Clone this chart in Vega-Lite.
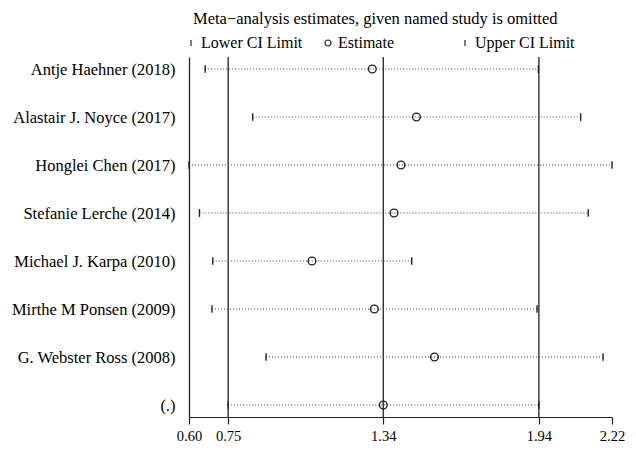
{
  "$schema": "https://vega.github.io/schema/vega-lite/v6.json",
  "width": 423,
  "height": 360,
  "autosize": {"type": "none"},
  "padding": {"left": 189, "top": 57, "right": 24, "bottom": 37},
  "background": "white",
  "title": {
    "text": "Meta−analysis estimates, given named study is omitted",
    "anchor": "start",
    "frame": "group",
    "font": "Liberation Serif",
    "fontSize": 16.5,
    "fontWeight": "normal",
    "color": "#000",
    "offset": 8,
    "dx": 4
  },
  "config": {
    "view": {"stroke": null},
    "font": "Liberation Serif"
  },
  "data": {
    "values": [
      {"study": "Antje Haehner (2018)", "Lower CI Limit": 0.662, "Estimate": 1.302, "Upper CI Limit": 1.938},
      {"study": "Alastair J. Noyce (2017)", "Lower CI Limit": 0.844, "Estimate": 1.471, "Upper CI Limit": 2.100},
      {"study": "Honglei Chen (2017)", "Lower CI Limit": 0.600, "Estimate": 1.412, "Upper CI Limit": 2.220},
      {"study": "Stefanie Lerche (2014)", "Lower CI Limit": 0.640, "Estimate": 1.385, "Upper CI Limit": 2.129},
      {"study": "Michael J. Karpa (2010)", "Lower CI Limit": 0.691, "Estimate": 1.071, "Upper CI Limit": 1.453},
      {"study": "Mirthe M Ponsen (2009)", "Lower CI Limit": 0.688, "Estimate": 1.310, "Upper CI Limit": 1.933},
      {"study": "G. Webster Ross (2008)", "Lower CI Limit": 0.895, "Estimate": 1.540, "Upper CI Limit": 2.186},
      {"study": "(.)", "Lower CI Limit": 0.750, "Estimate": 1.344, "Upper CI Limit": 1.940}
    ]
  },
  "layer": [
    {
      "transform": [
        {"filter": "datum.study === '(.)'"},
        {"fold": ["Lower CI Limit", "Estimate", "Upper CI Limit"]}
      ],
      "mark": {"type": "rule", "color": "#222", "strokeWidth": 1.3},
      "encoding": {
        "x": {
          "field": "value",
          "type": "quantitative",
          "scale": {"domain": [0.6, 2.22], "nice": false, "zero": false},
          "axis": {
            "title": null,
            "grid": false,
            "values": [0.6, 0.75, 1.344, 1.94, 2.22],
            "labelExpr": "datum.value === 1.344 ? '1.34' : format(datum.value, '.2f')",
            "labelFlush": false,
            "labelOverlap": false,
            "labelFont": "Liberation Serif",
            "labelFontSize": 14.5,
            "labelColor": "#000",
            "labelPadding": 5,
            "tickSize": 7,
            "tickColor": "#222",
            "domainColor": "#222",
            "tickWidth": 1.2,
            "domainWidth": 1.2
          }
        }
      }
    },
    {
      "mark": {"type": "rule", "strokeDash": [1, 2], "color": "#444", "strokeWidth": 1},
      "encoding": {
        "y": {
          "field": "study",
          "type": "nominal",
          "sort": null,
          "scale": {"type": "point", "padding": 0.25},
          "axis": {
            "title": null,
            "ticks": false,
            "grid": false,
            "labelFont": "Liberation Serif",
            "labelFontSize": 16.5,
            "labelColor": "#000",
            "labelPadding": 14,
            "domainColor": "#222",
            "domainWidth": 1.3,
            "labelLimit": 300
          }
        },
        "x": {"field": "Lower CI Limit", "type": "quantitative"},
        "x2": {"field": "Upper CI Limit"}
      }
    },
    {
      "transform": [
        {"fold": ["Lower CI Limit", "Estimate", "Upper CI Limit"]}
      ],
      "mark": {"type": "point", "filled": false, "stroke": "#222", "strokeWidth": 1.4, "size": 60, "opacity": 1},
      "encoding": {
        "y": {"field": "study", "type": "nominal", "sort": null},
        "x": {"field": "value", "type": "quantitative"},
        "shape": {
          "field": "key",
          "type": "nominal",
          "scale": {
            "domain": ["Lower CI Limit", "Estimate", "Upper CI Limit"],
            "range": ["M0,-1L0,1", "circle", "M0,-1L0,1"]
          },
          "legend": {
            "title": null,
            "orient": "top",
            "direction": "horizontal",
            "gridAlign": "all",
            "columnPadding": 19,
            "padding": 0,
            "symbolOffset": -6,
            "labelFont": "Liberation Serif",
            "labelFontSize": 16,
            "labelColor": "#000",
            "labelOffset": 2,
            "symbolSize": 36,
            "symbolStrokeColor": "#222",
            "symbolStrokeWidth": 1.2,
            "symbolFillColor": "transparent",
            "offset": 6
          }
        }
      }
    }
  ]
}
